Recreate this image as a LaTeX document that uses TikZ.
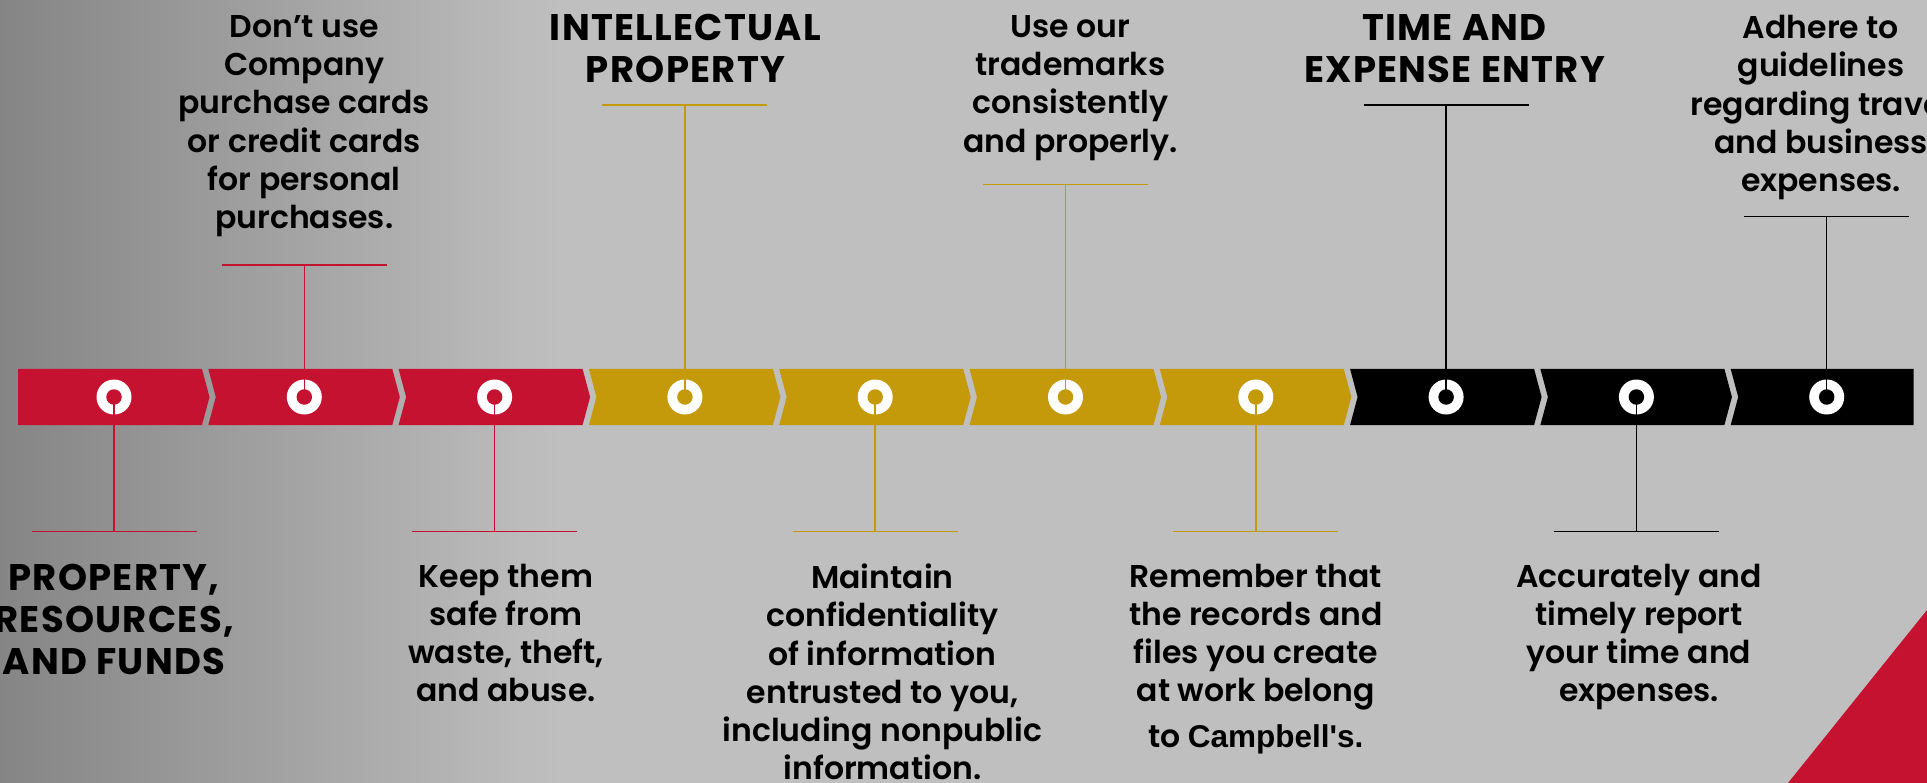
\documentclass[tikz,border=0pt]{standalone}
\usepackage{fontspec}
\setmainfont{Poppins}[BoldFont={Poppins SemiBold}]
\newfontfamily\headfont{Poppins}[UprightFont={* Bold}, BoldFont={* Bold}, LetterSpace=3.5]
\newfontfamily\brandfont{Liberation Sans}[UprightFont={* Bold}, BoldFont={* Bold}]
\definecolor{soupred}{HTML}{C41230}
\definecolor{soupgold}{HTML}{C49A0A}
\definecolor{greylight}{HTML}{BFBFBF}
\definecolor{greydark}{HTML}{858585}

\begin{document}
\begin{tikzpicture}[x=1pt, y=-1pt,
ring/.style={circle, fill=white, minimum size=35pt, inner sep=0pt},
hole/.style={circle, fill=#1, minimum size=15.5pt, inner sep=0pt},
stem/.style={draw=#1, line width=1.5pt},
body/.style={align=center, inner sep=0pt, anchor=north, font=\fontsize{31.5}{38.3}\selectfont\bfseries},
head/.style={align=center, inner sep=0pt, anchor=north, font=\fontsize{37}{42}\selectfont\headfont},
]
\clip (0,0) rectangle (1927,783);
% background
\fill[left color=greydark, right color=greylight] (0,0) rectangle (560,783);
\fill[greylight] (560,0) rectangle (1927,783);
\fill[soupred] (1927,610) -- (1927,783) -- (1788,783) -- cycle;

% the bar
\fill[soupred, shift={(114,0)}] (-96,369) -- (88,369) -- (95.5,397) -- (88,425) -- (-96,425) -- cycle;
\fill[soupred, shift={(304.3,0)}] (-96,369) -- (88,369) -- (95.5,397) -- (88,425) -- (-96,425) -- (-88.5,397) -- cycle;
\fill[soupred, shift={(494.6,0)}] (-96,369) -- (88,369) -- (95.5,397) -- (88,425) -- (-96,425) -- (-88.5,397) -- cycle;
\fill[soupgold, shift={(684.9,0)}] (-96,369) -- (88,369) -- (95.5,397) -- (88,425) -- (-96,425) -- (-88.5,397) -- cycle;
\fill[soupgold, shift={(875.2,0)}] (-96,369) -- (88,369) -- (95.5,397) -- (88,425) -- (-96,425) -- (-88.5,397) -- cycle;
\fill[soupgold, shift={(1065.5,0)}] (-96,369) -- (88,369) -- (95.5,397) -- (88,425) -- (-96,425) -- (-88.5,397) -- cycle;
\fill[soupgold, shift={(1255.8,0)}] (-96,369) -- (88,369) -- (95.5,397) -- (88,425) -- (-96,425) -- (-88.5,397) -- cycle;
\fill[black, shift={(1446.1,0)}] (-96,369) -- (88,369) -- (95.5,397) -- (88,425) -- (-96,425) -- (-88.5,397) -- cycle;
\fill[black, shift={(1636.4,0)}] (-96,369) -- (88,369) -- (95.5,397) -- (88,425) -- (-96,425) -- (-88.5,397) -- cycle;
\fill[black, shift={(1826.7,0)}] (-96,369) -- (87,369) -- (87,425) -- (-96,425) -- (-88.5,397) -- cycle;

% rings
\node[ring] (r1) at (114,397) {};
\node[hole=soupred] (h1) at (r1) {};
\node[ring] (r2) at (304.3,397) {};
\node[hole=soupred] (h2) at (r2) {};
\node[ring] (r3) at (494.6,397) {};
\node[hole=soupred] (h3) at (r3) {};
\node[ring] (r4) at (684.9,397) {};
\node[hole=soupgold] (h4) at (r4) {};
\node[ring] (r5) at (875.2,397) {};
\node[hole=soupgold] (h5) at (r5) {};
\node[ring] (r6) at (1065.5,397) {};
\node[hole=soupgold] (h6) at (r6) {};
\node[ring] (r7) at (1255.8,397) {};
\node[hole=soupgold] (h7) at (r7) {};
\node[ring] (r8) at (1446.1,397) {};
\node[hole=black] (h8) at (r8) {};
\node[ring] (r9) at (1636.4,397) {};
\node[hole=black] (h9) at (r9) {};
\node[ring] (r10) at (1826.7,397) {};
\node[hole=black] (h10) at (r10) {};

% labels above
\node[body] (l2) at (304.3,15) {Don’t use\\Company\\purchase cards\\or credit cards\\for personal\\purchases.};
\node[head] (l4) at (685.5,14) {INTELLECTUAL\\PROPERTY};
\node[body] (l6) at (1070.5,15) {Use our\\trademarks\\consistently\\and properly.};
\node[head] (l8) at (1454.5,14) {TIME AND\\EXPENSE ENTRY};
\node[body] (l10) at (1821,15) {Adhere to\\guidelines\\regarding travel\\and business\\expenses.};

% labels below
\node[head] (l1) at (114,563.5) {PROPERTY,\\RESOURCES,\\AND FUNDS};
\node[body] (l3) at (506,563.5) {Keep them\\safe from\\waste, theft,\\and abuse.};
\node[body] (l5) at (882.5,563.5) {Maintain\\confidentiality\\of information\\entrusted to you,\\including nonpublic\\information.};
\node[body] (l7) at (1255.8,563.5) {Remember that\\the records and\\files you create\\at work belong\\[7pt]to {\brandfont Campbell's.}};
\node[body] (l9) at (1639,563.5) {Accurately and\\timely report\\your time and\\expenses.};

% connectors
\coordinate (b1) at (114,531.5);
\coordinate (b2) at (304.3,265);
\coordinate (b3) at (494.6,531.5);
\coordinate (b4) at (684.9,105);
\coordinate (b5) at (875.2,531.5);
\coordinate (b6) at (1065.5,184.5);
\coordinate (b7) at (1255.8,531.5);
\coordinate (b8) at (1446.1,105);
\coordinate (b9) at (1636.4,531.5);
\coordinate (b10) at (1826.7,216.5);
\draw[stem=soupred] ([xshift=-82.5pt]b1) -- ([xshift=82.5pt]b1) (b1) -- (h1.center);
\draw[stem=soupred] ([xshift=-82.5pt]b2) -- ([xshift=82.5pt]b2) (b2) -- (h2.center);
\draw[stem=soupred] ([xshift=-82.5pt]b3) -- ([xshift=82.5pt]b3) (b3) -- (h3.center);
\draw[stem=soupgold] ([xshift=-82.5pt]b4) -- ([xshift=82.5pt]b4) (b4) -- (h4.center);
\draw[stem=soupgold] ([xshift=-82.5pt]b5) -- ([xshift=82.5pt]b5) (b5) -- (h5.center);
\draw[stem=soupgold] ([xshift=-82.5pt]b6) -- ([xshift=82.5pt]b6) (b6) -- (h6.center);
\draw[stem=soupgold] ([xshift=-82.5pt]b7) -- ([xshift=82.5pt]b7) (b7) -- (h7.center);
\draw[stem=black] ([xshift=-82.5pt]b8) -- ([xshift=82.5pt]b8) (b8) -- (h8.center);
\draw[stem=black] ([xshift=-82.5pt]b9) -- ([xshift=82.5pt]b9) (b9) -- (h9.center);
\draw[stem=black] ([xshift=-82.5pt]b10) -- ([xshift=82.5pt]b10) (b10) -- (h10.center);
\end{tikzpicture}
\end{document}
